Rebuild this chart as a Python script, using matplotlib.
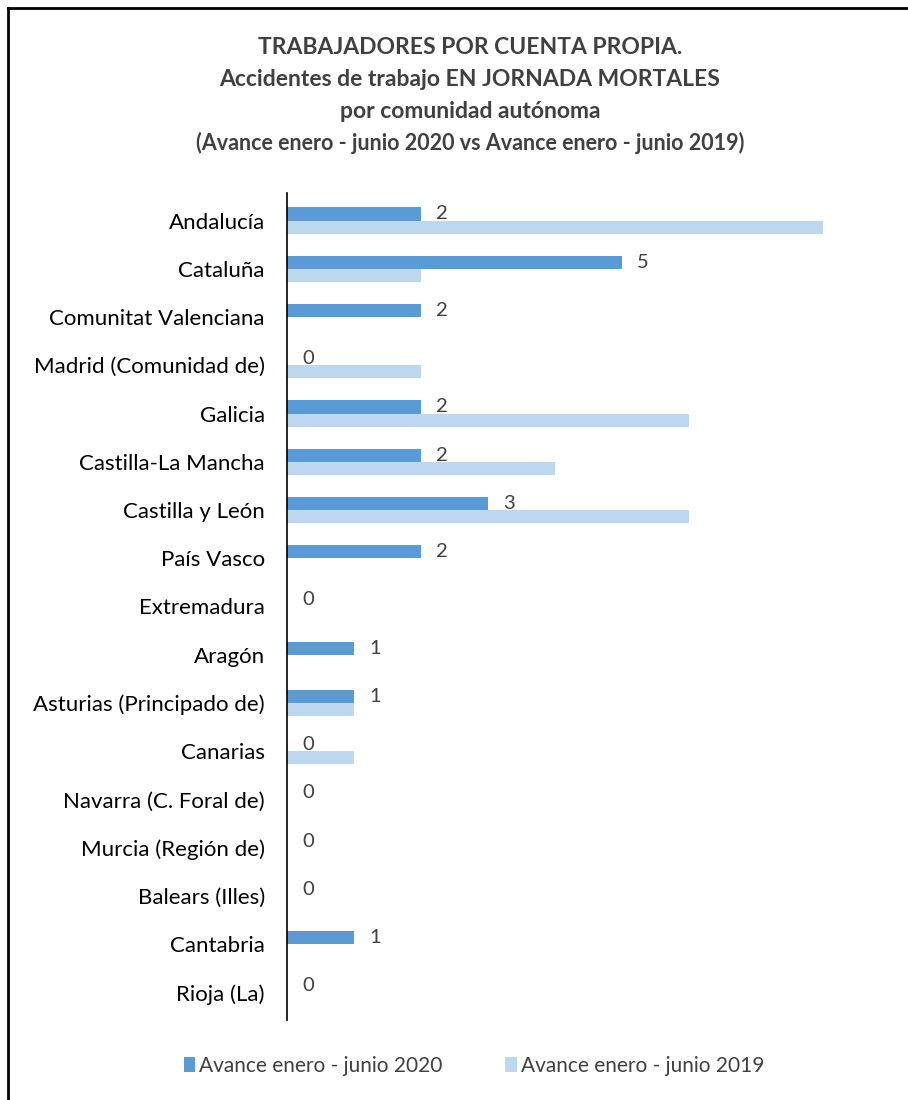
import matplotlib.pyplot as plt
import numpy as np

REGIONS = [
    "Andalucía", "Cataluña", "Comunitat Valenciana", "Madrid (Comunidad de)",
    "Galicia", "Castilla-La Mancha", "Castilla y León", "País Vasco",
    "Extremadura", "Aragón", "Asturias (Principado de)", "Canarias",
    "Navarra (C. Foral de)", "Murcia (Región de)", "Balears (Illes)",
    "Cantabria", "Rioja (La)",
]
AVANCE_2020 = [2, 5, 2, 0, 2, 2, 3, 2, 0, 1, 1, 0, 0, 0, 0, 1, 0]
AVANCE_2019 = [8, 2, 0, 2, 6, 4, 6, 0, 0, 0, 1, 1, 0, 0, 0, 0, 0]
LABEL_2020 = "Avance enero - junio 2020"
LABEL_2019 = "Avance enero - junio 2019"

DARK = "#5B9BD5"
LIGHT = "#BDD7EE"
TEXT = "#404040"

plt.rcParams["font.family"] = ["Lato", "DejaVu Sans"]

fig = plt.figure(figsize=(9.08, 11), dpi=100)
ax = fig.add_axes([287 / 908, 1 - 1020 / 1100, (890 - 287) / 908, (1020 - 193) / 1100])

y = np.arange(len(REGIONS))
h = 0.27
ax.barh(y - h / 2, AVANCE_2020, height=h, color=DARK, label=LABEL_2020)
ax.barh(y + h / 2, AVANCE_2019, height=h, color=LIGHT, label=LABEL_2019)

for yi, v in zip(y, AVANCE_2020):
    ax.annotate(str(v), (v, yi - h / 2), xytext=(11, 0), textcoords="offset points",
                ha="left", va="center", fontsize=14.5, color=TEXT)

ax.set_xlim(0, 9)
ax.set_ylim(len(REGIONS) - 0.43, -0.57)
ax.set_yticks(y)
ax.set_yticklabels(REGIONS, fontsize=16, color="black")
ax.tick_params(axis="y", length=0, pad=16)
ax.set_xticks([])
for side in ["top", "right", "bottom"]:
    ax.spines[side].set_visible(False)
ax.spines["left"].set_color("black")
ax.spines["left"].set_linewidth(1.2)

title_lines = [
    ("TRABAJADORES POR CUENTA PROPIA.", 47, 16.5),
    ("Accidentes de trabajo EN JORNADA MORTALES", 80, 16.5),
    ("por comunidad autónoma", 112, 16.5),
    ("(Avance enero - junio 2020 vs Avance enero - junio 2019)", 143, 15.5),
]
for text, ypx, size in title_lines:
    fig.text(470 / 908, 1 - ypx / 1100, text, ha="center", va="center",
             fontsize=size, fontweight="bold", color=TEXT)

leg = fig.legend(loc="center", bbox_to_anchor=(474 / 908, 1 - 1066 / 1100), ncol=2,
                 frameon=False, fontsize=15, handlelength=0.55, handleheight=0.7,
                 handletextpad=0.2, columnspacing=3.0)
for t in leg.get_texts():
    t.set_color(TEXT)

# chart border (left and top edges visible in the reference)
fig.add_artist(plt.Line2D([8 / 908, 8 / 908], [0, 1 - 8 / 1100], transform=fig.transFigure,
                          color="black", linewidth=2))
fig.add_artist(plt.Line2D([8 / 908, 1], [1 - 8 / 1100, 1 - 8 / 1100], transform=fig.transFigure,
                          color="black", linewidth=2))

fig.savefig("out.png", dpi=100)
